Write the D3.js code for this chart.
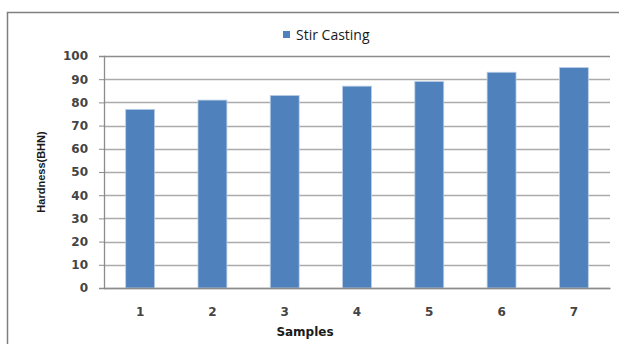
<!DOCTYPE html>
<html>
<head>
<meta charset="utf-8">
<script src="https://cdn.jsdelivr.net/npm/d3@7"></script>
<style>
  html, body { margin: 0; padding: 0; background: #fff; }
  svg { display: block; }
</style>
</head>
<body>
<svg id="chart" width="619" height="344"></svg>
<script>
// Hardness of stir-cast samples
const samples = ["1", "2", "3", "4", "5", "6", "7"];
const hardness = [77, 81, 83, 87, 89, 93, 95];
const yTicks = [0, 10, 20, 30, 40, 50, 60, 70, 80, 90, 100];
const seriesName = "Stir Casting";

const svg = d3.select("#chart");
const W = 619, H = 344;
const margin = { left: 104, right: 9, top: 56, bottom: 56 };
const plotW = W - margin.left - margin.right;
const plotH = H - margin.top - margin.bottom;

const tickFont = "DejaVu Sans, Verdana, sans-serif";

// outer chart frame (left and top edges visible)
svg.append("path")
  .attr("d", `M7.5,${H} V12.5 H${W}`)
  .attr("fill", "none")
  .attr("stroke", "#7f7f7f")
  .attr("stroke-width", 1.5);

const g = svg.append("g").attr("transform", `translate(${margin.left},${margin.top})`);

const x = d3.scaleBand().domain(samples).range([0, plotW]).paddingInner(0.6).paddingOuter(0.3);
const y = d3.scaleLinear().domain([0, 100]).range([plotH, 0]);

// horizontal gridlines
g.append("g")
  .selectAll("line")
  .data(yTicks)
  .join("line")
  .attr("x1", 0)
  .attr("x2", plotW)
  .attr("y1", d => Math.round(y(d)) + 0.5)
  .attr("y2", d => Math.round(y(d)) + 0.5)
  .attr("stroke", d => d === 100 ? "#8c8c8c" : "#ababab")
  .attr("stroke-width", 1.3);

// bars
g.append("g")
  .selectAll("rect")
  .data(samples.map((s, i) => ({ s, v: hardness[i] })))
  .join("rect")
  .attr("x", d => x(d.s))
  .attr("y", d => y(d.v))
  .attr("width", x.bandwidth())
  .attr("height", d => plotH - y(d.v))
  .attr("fill", "#4f81bd")
  .attr("stroke", "#b9cde5")
  .attr("stroke-width", 0.8);

// y axis
const yAxis = g.append("g")
  .call(d3.axisLeft(y).tickValues(yTicks).tickSize(5).tickPadding(11));
yAxis.select(".domain").attr("stroke", "#8c8c8c").attr("stroke-width", 1.3);
yAxis.selectAll(".tick line").attr("stroke", "#8c8c8c");
yAxis.selectAll(".tick text")
  .attr("font-family", tickFont)
  .attr("font-weight", "bold")
  .attr("font-size", "12px")
  .attr("fill", "#444");

// x axis
const xAxis = g.append("g")
  .attr("transform", `translate(0,${plotH})`)
  .call(d3.axisBottom(x).tickSize(0).tickPadding(19));
xAxis.select(".domain").attr("stroke", "#8c8c8c").attr("stroke-width", 1.3);
xAxis.selectAll(".tick text")
  .attr("font-family", tickFont)
  .attr("font-weight", "bold")
  .attr("font-size", "12px")
  .attr("fill", "#444");

// axis titles
svg.append("text")
  .attr("x", 305)
  .attr("y", 336)
  .attr("text-anchor", "middle")
  .attr("font-family", tickFont)
  .attr("font-weight", "bold")
  .attr("font-size", "12px")
  .attr("fill", "#1a1a1a")
  .text("Samples");

svg.append("text")
  .attr("transform", "translate(45,172) rotate(-90)")
  .attr("text-anchor", "middle")
  .attr("font-family", "Liberation Sans, Arial, sans-serif")
  .attr("font-weight", "bold")
  .attr("font-size", "11px")
  .attr("fill", "#1a1a1a")
  .text("Hardness(BHN)");

// legend
const legend = svg.append("g").attr("transform", "translate(283,31)");
legend.append("rect")
  .attr("width", 7).attr("height", 7)
  .attr("fill", "#4f81bd");
legend.append("text")
  .attr("x", 13)
  .attr("y", 8.5)
  .attr("font-family", "Open Sans, Lato, sans-serif")
  .attr("font-size", "14px")
  .attr("fill", "#1a1a1a")
  .text(seriesName);
</script>
</body>
</html>
